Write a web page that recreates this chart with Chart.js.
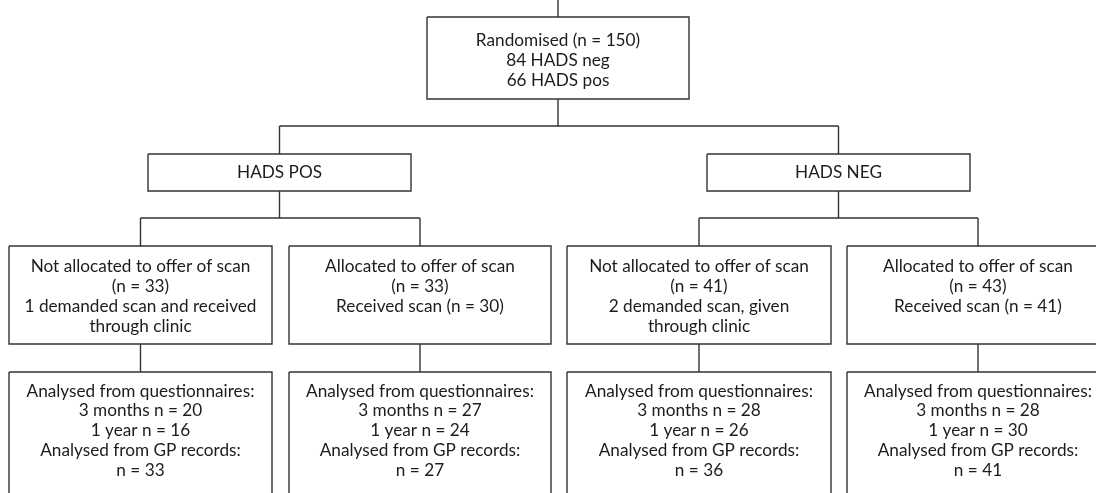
<!DOCTYPE html>
<html>
<head>
<meta charset="utf-8">
<script src="https://cdn.jsdelivr.net/npm/chart.js@4"></script>
<style>
  html, body { margin: 0; padding: 0; background: #fff; }
  #flow { display: block; }
</style>
</head>
<body>
<canvas id="flow" width="1096" height="493"></canvas>
<script>
// Flowchart texts
const rootLines = ['Randomised (n = 150)', '84 HADS neg', '66 HADS pos'];
const groupLabels = ['HADS POS', 'HADS NEG'];
const armLines = [
    ['Not allocated to offer of scan', '(n = 33)', '1 demanded scan and received', 'through clinic'],
    ['Allocated to offer of scan', '(n = 33)', 'Received scan (n = 30)'],
    ['Not allocated to offer of scan', '(n = 41)', '2 demanded scan, given', 'through clinic'],
    ['Allocated to offer of scan', '(n = 43)', 'Received scan (n = 41)']
];
const months3 = [20, 27, 28, 28];
const year1 = [16, 24, 26, 30];
const gpRecords = [33, 27, 36, 41];

// Layout (axis units = pixels)
const rootBox = { x0: 427, x1: 689, y0: 17, y1: 99, textY: 40, step: 20 };
const groupBoxes = [
    { x0: 148, x1: 411, y0: 154, y1: 191 },
    { x0: 707, x1: 970, y0: 154, y1: 191 }
];
const armX = [[9, 272], [289, 551], [567, 831], [847, 1109]];
const armY = [246, 344];
const analysedY = [372, 520];

const lineColor = '#333333';
const textColor = '#1c1c1c';
const fontFamily = 'Lato, "Liberation Sans", sans-serif';

function boxPoints(b) {
    return [
        { x: b.x0, y: b.y0 }, { x: b.x1, y: b.y0 },
        { x: b.x1, y: b.y1 }, { x: b.x0, y: b.y1 },
        { x: b.x0, y: b.y0 }
    ];
}

const mid = b => (b.x0 + b.x1) / 2;

const boxes = [rootBox].concat(groupBoxes);
armX.forEach(a => {
    boxes.push({ x0: a[0], x1: a[1], y0: armY[0], y1: armY[1] });
});
armX.forEach(a => {
    boxes.push({ x0: a[0], x1: a[1], y0: analysedY[0], y1: analysedY[1] });
});

// connector segments
const segs = [];
const rx = mid(rootBox);
const gx = groupBoxes.map(mid);
const ax = armX.map(a => (a[0] + a[1]) / 2);
segs.push([[rx, 0], [rx, rootBox.y0]]);
segs.push([[rx, rootBox.y1], [rx, 126]]);
segs.push([[gx[0], 126], [gx[1], 126]]);
gx.forEach((x, i) => {
    segs.push([[x, 126], [x, groupBoxes[i].y0]]);
    segs.push([[x, groupBoxes[i].y1], [x, 218]]);
    segs.push([[ax[i * 2], 218], [ax[i * 2 + 1], 218]]);
});
ax.forEach(x => {
    segs.push([[x, 218], [x, armY[0]]]);
    segs.push([[x, armY[1]], [x, analysedY[0]]]);
});

const connectorData = [];
segs.forEach(s => {
    connectorData.push({ x: s[0][0], y: s[0][1] });
    connectorData.push({ x: s[1][0], y: s[1][1] });
    connectorData.push({ x: null, y: null });
});

const datasets = boxes.map(b => ({
    data: boxPoints(b),
    showLine: true,
    borderColor: lineColor,
    borderWidth: 1.4,
    pointRadius: 0,
    fill: false
}));
datasets.push({
    data: connectorData,
    showLine: true,
    spanGaps: false,
    borderColor: lineColor,
    borderWidth: 1.4,
    pointRadius: 0,
    fill: false
});

// text blocks
const blocks = [];
blocks.push({ x: rx, y: rootBox.textY, step: rootBox.step, lines: rootLines });
groupLabels.forEach((g, i) => {
    blocks.push({ x: gx[i], y: 172, step: 20, lines: [g] });
});
armLines.forEach((lines, i) => {
    blocks.push({ x: ax[i], y: 266, step: 20, lines: lines });
});
ax.forEach((x, i) => {
    blocks.push({
        x: x, y: 391, step: 19.75,
        lines: [
            'Analysed from questionnaires:',
            '3 months n = ' + months3[i],
            '1 year n = ' + year1[i],
            'Analysed from GP records:',
            'n = ' + gpRecords[i]
        ]
    });
});

const textPlugin = {
    id: 'flowText',
    afterDatasetsDraw(chart) {
        const ctx = chart.ctx;
        const xs = chart.scales.x;
        const ys = chart.scales.y;
        ctx.save();
        ctx.fillStyle = textColor;
        ctx.font = '17.2px ' + fontFamily;
        ctx.textAlign = 'center';
        ctx.textBaseline = 'middle';
        blocks.forEach(b => {
            b.lines.forEach((t, k) => {
                ctx.fillText(t, xs.getPixelForValue(b.x), ys.getPixelForValue(b.y + k * b.step));
            });
        });
        ctx.restore();
    }
};

new Chart(document.getElementById('flow'), {
    type: 'scatter',
    data: { datasets: datasets },
    options: {
        responsive: false,
        animation: false,
        events: [],
        layout: { padding: 0 },
        scales: {
            x: { type: 'linear', min: 0, max: 1096, display: false },
            y: { type: 'linear', min: 0, max: 493, reverse: true, display: false }
        },
        elements: { line: { tension: 0 } },
        plugins: {
            legend: { display: false },
            tooltip: { enabled: false }
        },
        clip: false
    },
    plugins: [textPlugin]
});
</script>
</body>
</html>
